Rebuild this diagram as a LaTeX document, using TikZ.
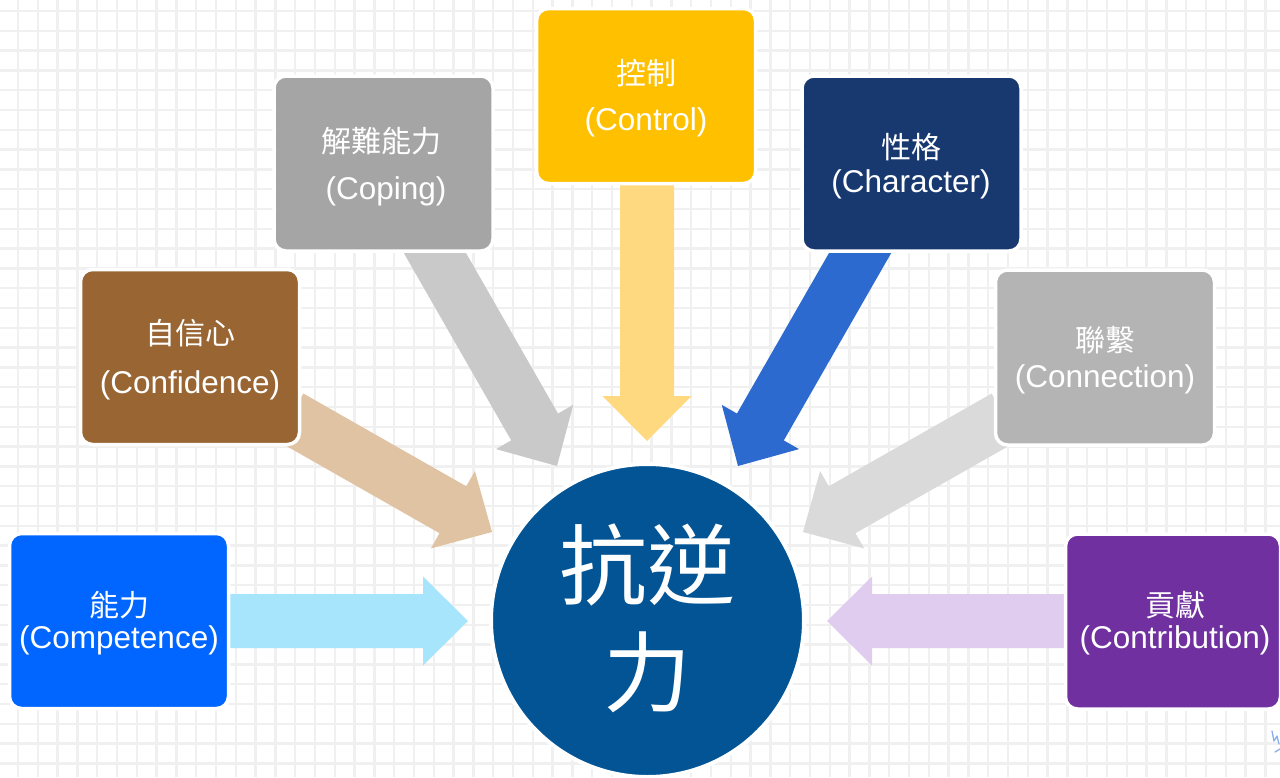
\documentclass[tikz,border=0pt]{standalone}
\usepackage{fontspec}
\setmainfont{Liberation Sans}
\newfontfamily\cjk{Noto Sans CJK TC}
\usetikzlibrary{calc}

\definecolor{gridc}{HTML}{F0F0F0}
\definecolor{cCompBox}{HTML}{0066FF}
\definecolor{cCompArr}{HTML}{A6E5FB}
\definecolor{cConfBox}{HTML}{996633}
\definecolor{cConfArr}{HTML}{E0C3A2}
\definecolor{cCopBox}{HTML}{A5A5A5}
\definecolor{cCopArr}{HTML}{C9C9C9}
\definecolor{cCtlBox}{HTML}{FFC000}
\definecolor{cCtlArr}{HTML}{FFD980}
\definecolor{cChaBox}{HTML}{183870}
\definecolor{cChaArr}{HTML}{2C6AD0}
\definecolor{cConnBox}{HTML}{B4B4B4}
\definecolor{cConnArr}{HTML}{DADADA}
\definecolor{cContBox}{HTML}{7030A0}
\definecolor{cContArr}{HTML}{E0CCEE}
\definecolor{cCircle}{HTML}{025494}
\definecolor{cScrib}{HTML}{8AAEEA}

\tikzset{
  gridline/.style={draw=gridc, line width=2.3pt},
  box/.style={rectangle, rounded corners=12pt, draw=white, line width=3.5pt,
              minimum width=219pt, minimum height=175pt, inner sep=0pt},
  zh/.style={text=white, font=\cjk\fontsize{30}{36}\selectfont, inner sep=0pt},
  en/.style={text=white, font=\fontsize{31.5}{38}\selectfont, inner sep=0pt, yshift=-2.5pt},
  bigzh/.style={text=white, font=\cjk\fontsize{88}{100}\selectfont, inner sep=0pt},
}

% block arrow from tail #1 to tip #2, colour #3
\newcommand\blockarrow[3]{%
  \coordinate (hb) at ($(#2)!45pt!(#1)$);
  \fill[#3] ($(#1)!27pt!90:(#2)$) -- ($(hb)!27pt!90:(#2)$) -- ($(hb)!44.5pt!90:(#2)$)
    -- (#2) -- ($(hb)!44.5pt!-90:(#2)$) -- ($(hb)!27pt!-90:(#2)$)
    -- ($(#1)!27pt!-90:(#2)$) -- cycle;
}

\begin{document}
\begin{tikzpicture}[x=1pt, y=-1pt]
\useasboundingbox (0,0) rectangle (1280,777);
\fill[white] (0,0) rectangle (1280,777);

% grid
\foreach \i in {0,...,64} {\draw[gridline] ({18+19.8*\i},0) -- ({18+19.8*\i},777);}
\foreach \j in {0,...,39} {\draw[gridline] (0,{11+19.8*\j}) -- (1280,{11+19.8*\j});}

% arrow end points
\coordinate (a1s) at (225,621);   \coordinate (a1e) at (468,621);
\coordinate (a2s) at (290,417);   \coordinate (a2e) at (492,532);
\coordinate (a3s) at (420,227);   \coordinate (a3e) at (557,466);
\coordinate (a4s) at (647,180);   \coordinate (a4e) at (647,441);
\coordinate (a5s) at (875,227);   \coordinate (a5e) at (738,466);
\coordinate (a6s) at (1005,417);  \coordinate (a6e) at (803,532);
\coordinate (a7s) at (1070,621);  \coordinate (a7e) at (827,621);

\blockarrow{a1s}{a1e}{cCompArr}
\blockarrow{a2s}{a2e}{cConfArr}
\blockarrow{a3s}{a3e}{cCopArr}
\blockarrow{a4s}{a4e}{cCtlArr}
\blockarrow{a5s}{a5e}{cChaArr}
\blockarrow{a6s}{a6e}{cConnArr}
\blockarrow{a7s}{a7e}{cContArr}

% boxes
\node[box, fill=cCompBox] (b1) at (119,621) {};
\node[box, fill=cConfBox] (b2) at (190,357) {};
\node[box, fill=cCopBox]  (b3) at (383.5,163.5) {};
\node[box, fill=cCtlBox]  (b4) at (646,96) {};
\node[box, fill=cChaBox]  (b5) at (911.5,163.5) {};
\node[box, fill=cConnBox] (b6) at (1105,357.5) {};
\node[box, fill=cContBox, minimum width=215pt] (b7) at (1173,621.5) {};

% box texts
\node[zh] (b1z) at (119,605) {能力};
\node[en] (b1e) at (119,638) {(Competence)};
\node[zh] (b2z) at (190,333) {自信心};
\node[en] (b2e) at (190,383) {(Confidence)};
\node[zh] (b3z) at (381,141) {解難能力};
\node[en] (b3e) at (386,189) {(Coping)};
\node[zh] (b4z) at (646,73) {控制};
\node[en] (b4e) at (646,120) {(Control)};
\node[zh] (b5z) at (911,147) {性格};
\node[en] (b5e) at (911,182) {(Character)};
\node[zh] (b6z) at (1105,340) {聯繫};
\node[en] (b6e) at (1105,377) {(Connection)};
\node[zh] (b7z) at (1175,605) {貢獻};
\node[en] (b7e) at (1175,638) {(Contribution)};

% centre circle
\node[circle, fill=cCircle, draw=white, line width=4pt, minimum size=313pt, inner sep=0pt] (c) at (647.5,620.5) {};
\node[bigzh] (c1) at (647.5,565) {抗逆};
\node[bigzh] (c2) at (647,672) {力};

% small scribble at bottom right
\draw[cScrib, line width=1.3pt, line cap=round, line join=round]
  (1272,731) -- (1274,741) -- (1277,736) -- (1279,744);
\draw[cScrib, line width=1.3pt, line cap=round, line join=round]
  (1275,752) -- (1280,749);
\end{tikzpicture}
\end{document}
